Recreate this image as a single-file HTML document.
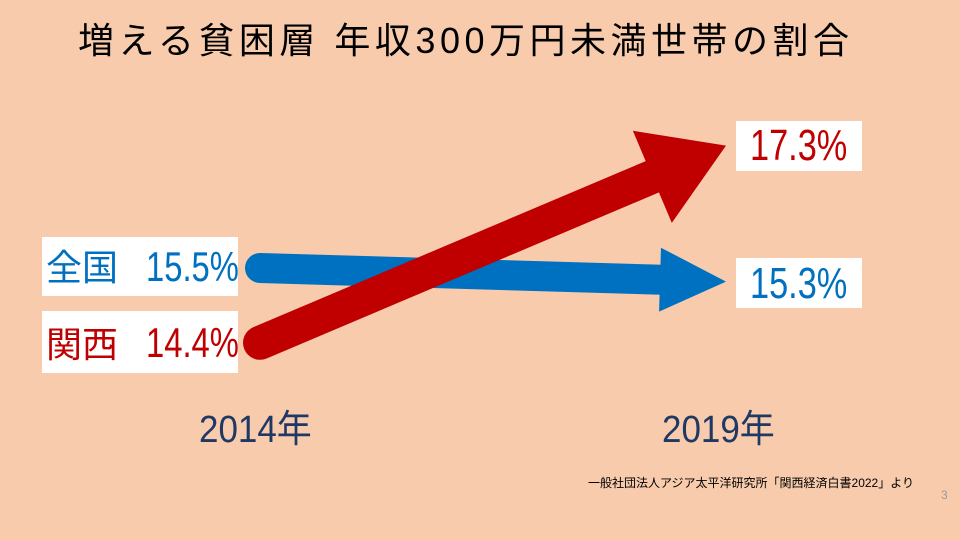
<!DOCTYPE html>
<html><head><meta charset="utf-8"><style>
body{margin:0;width:960px;height:540px;background:#F8CBAD;position:relative;overflow:hidden;font-family:"Liberation Sans","Noto Sans CJK JP",sans-serif}
.t{position:absolute;white-space:nowrap}
.box{position:absolute;background:#fff;white-space:nowrap}
.num{position:absolute;display:inline-block;transform-origin:left center;transform:scaleX(0.78);font-family:"Liberation Sans",sans-serif}
.cjk{position:absolute;font-family:"Noto Sans CJK JP",sans-serif}
</style></head><body>
<div class="t" style="left:78px;top:12px;font-size:36px;color:#000;letter-spacing:4.5px">増える貧困層&nbsp;年収300万円未満世帯の割合</div>
<svg id="chart" width="960" height="540" style="position:absolute;left:0;top:0"></svg>
<div class="box" style="left:42px;top:237px;width:196px;height:59px;color:#0070C0"><span class="cjk" style="left:4px;top:3px;font-size:36px;line-height:50px">全国</span><span class="num" style="left:104px;top:6px;font-size:42px;line-height:48px">15.5%</span></div>
<div class="box" style="left:42px;top:311px;width:196px;height:62px;color:#C00000"><span class="cjk" style="left:4px;top:6px;font-size:36px;line-height:50px">関西</span><span class="num" style="left:104px;top:8px;font-size:42px;line-height:48px">14.4%</span></div>
<div class="box" style="left:736px;top:121px;width:126px;height:50px;color:#C00000"><span class="num" style="left:14px;top:1px;font-size:44px;line-height:48px">17.3%</span></div>
<div class="box" style="left:736px;top:258px;width:126px;height:50px;color:#0070C0"><span class="num" style="left:14px;top:2px;font-size:44px;line-height:48px">15.3%</span></div>
<div class="t" style="left:199px;top:398px;font-size:38px;color:#1F3864;transform:scaleX(0.92);transform-origin:left">2014年</div>
<div class="t" style="left:662px;top:398px;font-size:38px;color:#1F3864;transform:scaleX(0.92);transform-origin:left">2019年</div>
<div class="t" style="left:588px;top:474px;font-size:12px;color:#000">一般社団法人アジア太平洋研究所「関西経済白書2022」より</div>
<div class="t" style="left:941px;top:488px;font-size:12px;color:#999">3</div>
<script>
const years=["2014","2019"];
const national=[15.5,15.3];
const kansai=[14.4,17.3];
const xs=i=>260+i*466;
const ys=v=>268-(v-15.5)*68;
const svg=document.getElementById('chart');
const NS='http://www.w3.org/2000/svg';
function arrow(vals,color,w,hl,hw,name){
  const x1=xs(0),y1=ys(vals[0]),x2=xs(1),y2=ys(vals[1]);
  const dx=x2-x1,dy=y2-y1,L=Math.hypot(dx,dy),ux=dx/L,uy=dy/L,nx=-uy,ny=ux;
  const bx=x2-ux*hl,by=y2-uy*hl;
  const ln=document.createElementNS(NS,'line');
  
  
  ln.setAttribute('x1',x1);ln.setAttribute('y1',y1);ln.setAttribute('x2',bx+ux*2);ln.setAttribute('y2',by+uy*2);
  ln.setAttribute('stroke',color);ln.setAttribute('stroke-width',w);ln.setAttribute('stroke-linecap','round');
  svg.appendChild(ln);
  const p=document.createElementNS(NS,'polygon');
  
  
  p.setAttribute('points',`${x2},${y2} ${bx+nx*hw},${by+ny*hw} ${bx-nx*hw},${by-ny*hw}`);
  p.setAttribute('fill',color);
  svg.appendChild(p);
}
arrow(national,'#0070C0',30,66,32,'national-arrow');
arrow(kansai,'#C00000',34,80,50,'kansai-arrow');
</script>
</body></html>
